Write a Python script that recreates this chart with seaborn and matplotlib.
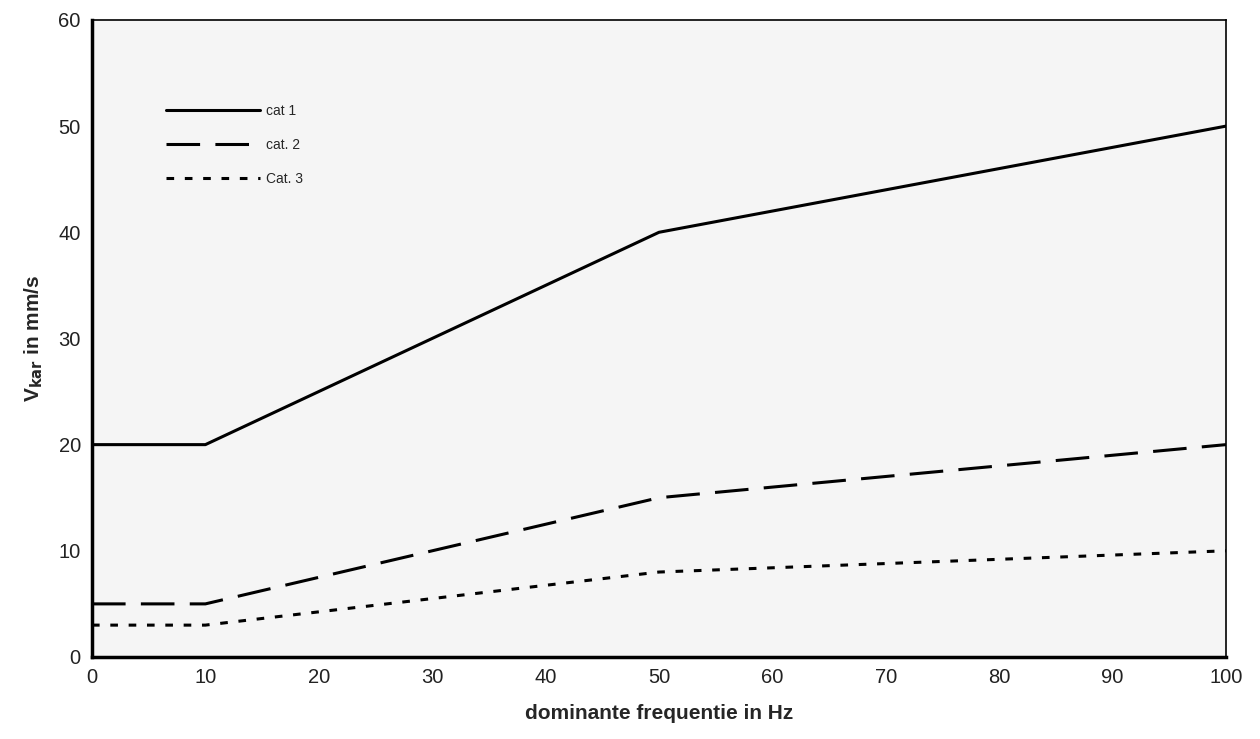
import matplotlib
matplotlib.use("Agg")
import matplotlib.pyplot as plt
import seaborn as sns
import pandas as pd

freq = [0, 10, 50, 100]
cat1 = [20, 20, 40, 50]
cat2 = [5, 5, 15, 20]
cat3 = [3, 3, 8, 10]
labels = ["cat 1", "cat. 2", "Cat. 3"]
xticks = [0, 10, 20, 30, 40, 50, 60, 70, 80, 90, 100]
yticks = [0, 10, 20, 30, 40, 50, 60]

sns.set_theme(style="white")
plt.rcParams['font.family'] = ['Liberation Sans', 'DejaVu Sans']

df = pd.DataFrame({
    "f": freq * 3,
    "v": cat1 + cat2 + cat3,
    "cat": [labels[0]] * 4 + [labels[1]] * 4 + [labels[2]] * 4,
})

fig, ax = plt.subplots(figsize=(12.6, 7.39), dpi=100)
fig.subplots_adjust(left=0.073, right=0.973, top=0.973, bottom=0.111)
ax.set_facecolor("#f5f5f5")

dashes = {labels[0]: "", labels[1]: (11, 5), labels[2]: (2.5, 3.5)}
sns.lineplot(data=df, x="f", y="v", hue="cat", style="cat",
             palette={l: "black" for l in labels}, dashes=dashes,
             linewidth=2.2, ax=ax, legend=True)

ax.set_xlim(0, 100)
ax.set_ylim(0, 60)
ax.set_xticks(xticks)
ax.set_yticks(yticks)
ax.tick_params(axis="both", labelsize=14.5, length=0, pad=8, colors="#222222")
for s in ax.spines.values():
    s.set_color("black")
    s.set_linewidth(1.2)
ax.spines["left"].set_linewidth(2.5)
ax.spines["bottom"].set_linewidth(2.5)

ax.set_xlabel("dominante frequentie in Hz", fontsize=15, fontweight="bold", labelpad=12)
ax.set_ylabel(r"V$_{\mathbf{kar}}$ in mm/s", fontsize=15, fontweight="bold", labelpad=10)

leg = ax.legend(loc="upper left", bbox_to_anchor=(0.054, 0.888), frameon=False,
                handlelength=6.8, fontsize=10, labelspacing=1.45, handletextpad=0.4)

fig.savefig("out.png", dpi=100)
